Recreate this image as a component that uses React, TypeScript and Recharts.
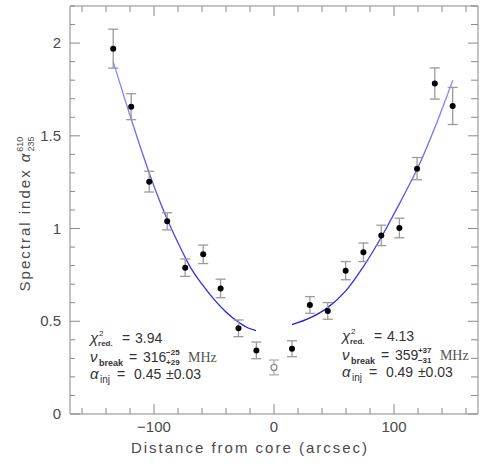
import { ComposedChart, Line, Scatter, XAxis, YAxis, ErrorBar, ReferenceDot } from 'recharts'

// measured points (distance in arcsec, spectral index, 1-sigma error)
const leftDist = [-134, -119, -104, -89, -74, -59, -44.5, -29.6, -14.7]
const leftAlpha = [1.97, 1.657, 1.253, 1.039, 0.789, 0.861, 0.677, 0.462, 0.343]
const leftErr = [0.105, 0.07, 0.056, 0.046, 0.047, 0.05, 0.05, 0.045, 0.045]

const coreDist = [0]
const coreAlpha = [0.251]
const coreErr = [0.04]

const rightDist = [15, 29.9, 44.8, 59.7, 74.5, 89.4, 104.5, 119.2, 134, 148.9]
const rightAlpha = [0.352, 0.588, 0.556, 0.773, 0.872, 0.963, 1.003, 1.323, 1.782, 1.661]
const rightErr = [0.043, 0.045, 0.045, 0.049, 0.05, 0.055, 0.053, 0.06, 0.084, 0.1]

// fitted model curves
const leftFitDist = [-134, -119, -104, -88, -79, -70, -60, -50, -40, -30, -22, -15]
const leftFitAlpha = [1.9, 1.59, 1.3, 1.035, 0.91, 0.795, 0.7, 0.618, 0.55, 0.497, 0.465, 0.45]
const rightFitDist = [15, 30, 45, 60, 75, 90, 105, 120, 135, 149]
const rightFitAlpha = [0.482, 0.518, 0.575, 0.665, 0.8, 0.96, 1.14, 1.33, 1.56, 1.8]

const xTicks = [-160, -140, -120, -100, -80, -60, -40, -20, 0, 20, 40, 60, 80, 100, 120, 140, 160]
const xMajor = [-100, 0, 100]
const yTicks = [0, 0.1, 0.2, 0.3, 0.4, 0.5, 0.6, 0.7, 0.8, 0.9, 1, 1.1, 1.2, 1.3, 1.4, 1.5, 1.6, 1.7, 1.8, 1.9, 2, 2.1, 2.2]
const yMajor = [0, 0.5, 1, 1.5, 2]

const frame = '#8a8a8a'
const ink = '#4a4a4a'
const font = '"Liberation Sans", Arial, sans-serif'

const toPoints = (xs: number[], ys: number[], es?: number[]) =>
  xs.map((x, i) => ({ x, y: ys[i], err: es ? es[i] : 0 }))

const leftData = toPoints(leftDist, leftAlpha, leftErr)
const rightData = toPoints(rightDist, rightAlpha, rightErr)
const coreData = toPoints(coreDist, coreAlpha, coreErr)
const leftFit = toPoints(leftFitDist, leftFitAlpha)
const rightFit = toPoints(rightFitDist, rightFitAlpha)

function BottomTick({ x, y, payload }: any) {
  const major = xMajor.includes(payload.value)
  return (
    <g>
      <line x1={x} x2={x} y1={y} y2={y - (major ? 10 : 6)} stroke={frame} />
      {major && (
        <text x={x} y={y + 18} textAnchor="middle" fontSize={15} fill={ink} fontFamily={font}>
          {payload.value < 0 ? '\u2212' + Math.abs(payload.value) : payload.value}
        </text>
      )}
    </g>
  )
}

function TopTick({ x, y, payload }: any) {
  const major = xMajor.includes(payload.value)
  return <line x1={x} x2={x} y1={y} y2={y + (major ? 10 : 6)} stroke={frame} />
}

function LeftTick({ x, y, payload }: any) {
  const major = yMajor.includes(payload.value)
  return (
    <g>
      <line x1={x} x2={x + (major ? 10 : 5)} y1={y} y2={y} stroke={frame} />
      {major && (
        <text x={x - 9} y={y + 5} textAnchor="end" fontSize={15} fill={ink} fontFamily={font}>
          {payload.value}
        </text>
      )}
    </g>
  )
}

function RightTick({ x, y, payload }: any) {
  const major = yMajor.includes(payload.value)
  return <line x1={x} x2={x - (major ? 10 : 7)} y1={y} y2={y} stroke={frame} />
}

function FitBlock({ x, y, chi, nu, nuUp, nuDown, inj }: any) {
  const t = { fill: '#333', fontFamily: font }
  return (
    <g>
      <text x={x} y={y} fontSize={15} fontStyle="italic" {...t}>χ</text>
      <text x={x + 9} y={y - 7} fontSize={8} {...t}>2</text>
      <text x={x + 8} y={y + 3} fontSize={8} fontWeight="bold" {...t}>red.</text>
      <text x={x + 32} y={y} fontSize={14} {...t}>=</text>
      <text x={x + 45} y={y} fontSize={14} {...t}>{chi}</text>

      <text x={x} y={y + 19} fontSize={15} fontStyle="italic" {...t}>ν</text>
      <text x={x + 9} y={y + 23} fontSize={9} fontWeight="bold" {...t}>break</text>
      <text x={x + 39} y={y + 19} fontSize={14} {...t}>=</text>
      <text x={x + 53} y={y + 19} fontSize={14} {...t}>{nu}</text>
      <text x={x + 76} y={y + 12} fontSize={8} fontWeight="bold" {...t}>{nuUp}</text>
      <text x={x + 76} y={y + 22} fontSize={8} fontWeight="bold" {...t}>{nuDown}</text>
      <text x={x + 98} y={y + 19} fontSize={14} fill="#555" fontFamily='"Liberation Serif", serif'>MHz</text>

      <text x={x} y={y + 36} fontSize={15} fontStyle="italic" {...t}>α</text>
      <text x={x + 10} y={y + 40} fontSize={10} {...t}>inj</text>
      <text x={x + 27} y={y + 36} fontSize={14} {...t}>=</text>
      <text x={x + 44} y={y + 36} fontSize={14} {...t}>{inj}</text>
      <text x={x + 76} y={y + 36} fontSize={14} {...t}>±0.03</text>
    </g>
  )
}

function YTitle({ viewBox }: any) {
  const cx = viewBox.x + 20
  const cy = viewBox.y + viewBox.height / 2 + 4
  return (
    <text
      transform={`translate(${cx},${cy}) rotate(-90)`}
      textAnchor="middle"
      fontSize={15}
      letterSpacing={2}
      fill={ink}
      fontFamily={font}
    >
      Spectral index <tspan fontStyle="italic">α</tspan>
      <tspan dy={-7} fontSize={9} letterSpacing={0}>610</tspan>
      <tspan dx={-15} dy={11} fontSize={9} letterSpacing={0}>235</tspan>
    </text>
  )
}

function XTitle({ viewBox }: any) {
  return (
    <text
      x={viewBox.x + viewBox.width / 2 - 24}
      y={viewBox.y + 39}
      textAnchor="middle"
      fontSize={15}
      letterSpacing={2}
      fill={ink}
      fontFamily={font}
    >
      Distance from core (arcsec)
    </text>
  )
}

const Dot = (props: any) => <circle cx={props.cx} cy={props.cy} r={3} fill="#000" />
const Hollow = (props: any) => (
  <circle cx={props.cx} cy={props.cy} r={3} fill="#fff" stroke="#8a8a8a" strokeWidth={1.2} />
)

export default function App() {
  return (
    <div style={{ position: 'absolute', left: 0, top: 0, background: '#fff' }}>
      <ComposedChart width={488} height={464} margin={{ top: 5, right: 9, bottom: 10, left: 10 }}>
        <defs>
          <linearGradient id="fitGrad" x1="0" y1="0" x2="0" y2="1">
            <stop offset="0%" stopColor="#8c8cff" />
            <stop offset="100%" stopColor="#1c1ce0" />
          </linearGradient>
        </defs>
        <XAxis
          xAxisId="b"
          type="number"
          dataKey="x"
          domain={[-170, 170]}
          ticks={xTicks}
          interval={0}
          height={40}
          tickSize={0}
          tickMargin={0}
          tick={<BottomTick />}
          tickLine={false}
          axisLine={{ stroke: frame }}
          allowDataOverflow
          label={{ content: <XTitle /> }}
        />
        <XAxis
          xAxisId="t"
          orientation="top"
          type="number"
          dataKey="x"
          domain={[-170, 170]}
          ticks={xTicks}
          interval={0}
          height={1}
          tickSize={0}
          tickMargin={0}
          tick={<TopTick />}
          tickLine={false}
          axisLine={{ stroke: frame }}
          allowDataOverflow
        />
        <YAxis
          yAxisId="l"
          type="number"
          domain={[0, 2.2]}
          ticks={yTicks}
          interval={0}
          width={60}
          tickSize={0}
          tickMargin={0}
          tick={<LeftTick />}
          tickLine={false}
          axisLine={{ stroke: frame }}
          allowDataOverflow
          label={{ content: <YTitle /> }}
        />
        <YAxis
          yAxisId="r"
          orientation="right"
          type="number"
          domain={[0, 2.2]}
          ticks={yTicks}
          interval={0}
          width={1}
          tickSize={0}
          tickMargin={0}
          tick={<RightTick />}
          tickLine={false}
          axisLine={{ stroke: frame }}
          allowDataOverflow
        />
        {/* keeps the mirrored axes bound to data */}
        <Scatter xAxisId="t" yAxisId="r" data={leftData} dataKey="y" shape={() => <g />} isAnimationActive={false} />

        <Line
          xAxisId="b"
          yAxisId="l"
          data={leftFit}
          dataKey="y"
          type="monotone"
          stroke="url(#fitGrad)"
          strokeWidth={1.3}
          dot={false}
          isAnimationActive={false}
        />
        <Line
          xAxisId="b"
          yAxisId="l"
          data={rightFit}
          dataKey="y"
          type="monotone"
          stroke="url(#fitGrad)"
          strokeWidth={1.3}
          dot={false}
          isAnimationActive={false}
        />
        <Scatter xAxisId="b" yAxisId="l" data={leftData} dataKey="y" shape={Dot} isAnimationActive={false}>
          <ErrorBar dataKey="err" direction="y" width={5} stroke="#9a9a9a" strokeWidth={1.3} />
        </Scatter>
        <Scatter xAxisId="b" yAxisId="l" data={rightData} dataKey="y" shape={Dot} isAnimationActive={false}>
          <ErrorBar dataKey="err" direction="y" width={5} stroke="#9a9a9a" strokeWidth={1.3} />
        </Scatter>
        <Scatter xAxisId="b" yAxisId="l" data={coreData} dataKey="y" shape={Hollow} isAnimationActive={false}>
          <ErrorBar dataKey="err" direction="y" width={5} stroke="#b0b0b0" strokeWidth={1.3} />
        </Scatter>

        <ReferenceDot
          xAxisId="b"
          yAxisId="l"
          x={-153.3}
          y={0.385}
          r={0}
          fill="none"
          stroke="none"
          label={{
            content: ({ viewBox }: any) => (
              <FitBlock x={viewBox.x} y={viewBox.y} chi="3.94" nu="316" nuUp="−25" nuDown="+29" inj="0.45" />
            ),
          }}
        />
        <ReferenceDot
          xAxisId="b"
          yAxisId="l"
          x={56.6}
          y={0.395}
          r={0}
          fill="none"
          stroke="none"
          label={{
            content: ({ viewBox }: any) => (
              <FitBlock x={viewBox.x} y={viewBox.y} chi="4.13" nu="359" nuUp="+37" nuDown="−31" inj="0.49" />
            ),
          }}
        />
      </ComposedChart>
    </div>
  )
}
